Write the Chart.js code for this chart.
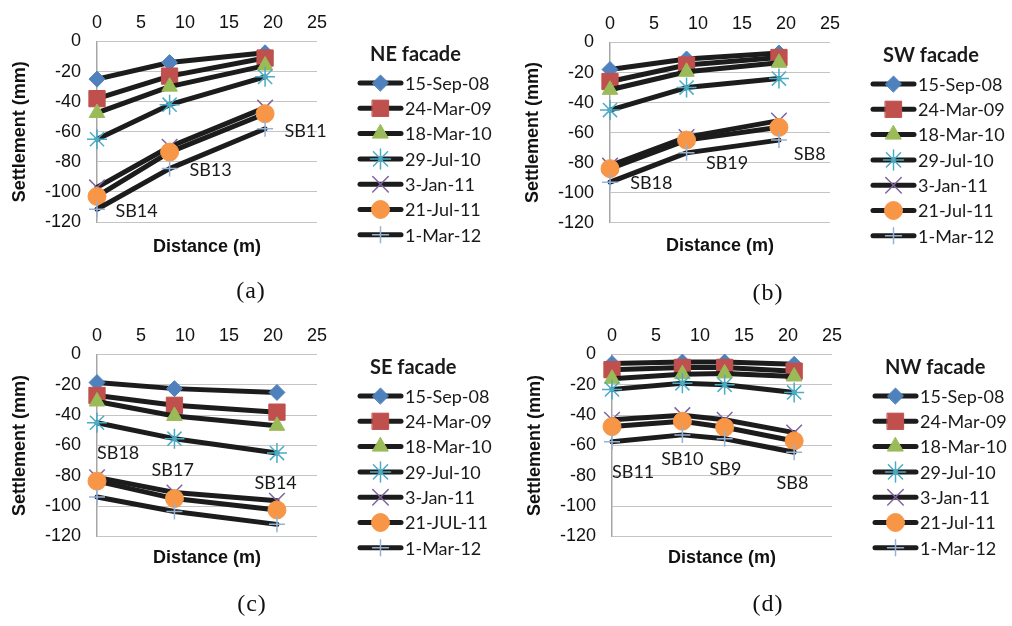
<!DOCTYPE html>
<html>
<head>
<meta charset="utf-8">
<title>Facade settlement</title>
<script src="https://cdn.jsdelivr.net/npm/chart.js@4.4.1/dist/chart.umd.min.js"></script>
<style>
  body { margin: 0; background: #fff; width: 1012px; height: 626px; position: relative; overflow: hidden; }
  .panel { position: absolute; width: 500px; height: 300px; }
  .cap { position: absolute; width: 60px; text-align: center; font-family: "Liberation Serif", serif; font-size: 24px; letter-spacing: 1px; color: #111; }
</style>
</head>
<body>
<div class="panel" style="left:0;top:0"><canvas id="chartNE" width="500" height="300"></canvas></div>
<div class="panel" style="left:513px;top:1px"><canvas id="chartSW" width="500" height="300"></canvas></div>
<div class="panel" style="left:0;top:313px"><canvas id="chartSE" width="500" height="300"></canvas></div>
<div class="panel" style="left:515px;top:313px"><canvas id="chartNW" width="500" height="300"></canvas></div>
<div class="cap" style="left:221px;top:277px">(a)</div>
<div class="cap" style="left:738px;top:279px">(b)</div>
<div class="cap" style="left:222px;top:590px">(c)</div>
<div class="cap" style="left:738px;top:590px">(d)</div>

<script>
// survey dates (series)
const surveyDates = ['15-Sep-08', '24-Mar-09', '18-Mar-10', '29-Jul-10', '3-Jan-11', '21-Jul-11', '1-Mar-12'];
const surveyDatesSE = ['15-Sep-08', '24-Mar-09', '18-Mar-10', '29-Jul-10', '3-Jan-11', '21-JUL-11', '1-Mar-12'];

// NE facade
const neDistance = [0, 8.25, 19.1];
const neSettlement = [
  [-25, -14, -7.5],
  [-38, -23, -11],
  [-47.5, -30, -16],
  [-65, -42, -23.5],
  [-97, -70, -44],
  [-103, -73.5, -48],
  [-111.5, -84.5, -58]
];
const neBoreholes = ['SB14', 'SB13', 'SB11'];
const neBoreholeX = [4.5, 12.9, 23.7];
const neBoreholeY = [-112.7, -85.8, -59.7];

// SW facade
const swDistance = [0, 8.7, 19.2];
const swSettlement = [
  [-18, -11, -7],
  [-26, -15, -10],
  [-31.5, -19.5, -13.5],
  [-45, -30, -24],
  [-82, -63, -52],
  [-84, -65, -56.5],
  [-93, -73.5, -65]
];
const swBoreholes = ['SB18', 'SB19', 'SB8'];
const swBoreholeX = [4.7, 13.3, 22.7];
const swBoreholeY = [-93.7, -80.5, -74.6];

// SE facade
const seDistance = [0, 8.8, 20.45];
const seSettlement = [
  [-18.5, -22.5, -25],
  [-27, -33.5, -38],
  [-31, -40.5, -47],
  [-45, -55.5, -65],
  [-81, -91, -96.5],
  [-83.5, -95, -102.5],
  [-94, -103.5, -112]
];
const seBoreholes = ['SB18', 'SB17', 'SB14'];
const seBoreholeX = [2.4, 8.6, 20.3];
const seBoreholeY = [-65.3, -76.3, -85];

// NW facade
const nwDistance = [0, 8.0, 12.8, 20.7];
const nwSettlement = [
  [-6, -5, -5, -6.5],
  [-10, -8.5, -8.5, -11],
  [-16, -13, -12.5, -14.5],
  [-23, -19, -20, -25],
  [-43, -40, -43, -51.5],
  [-47.5, -44, -48, -57],
  [-57.5, -53, -55.5, -64.5]
];
const nwBoreholes = ['SB11', 'SB10', 'SB9', 'SB8'];
const nwBoreholeX = [2.4, 8.0, 12.9, 20.5];
const nwBoreholeY = [-77.9, -69, -75.7, -84.9];

// marker look per survey
const markers = [
  { shape: 'rectRot', color: '#4f81bd', radius: 8, width: 1 },
  { shape: 'rect', color: '#c0504d', radius: 11.5, width: 1 },
  { shape: 'triangle', color: '#9bbb59', radius: 9, width: 1 },
  { shape: 'star', color: '#4bacc6', radius: 10, width: 1.5 },
  { shape: 'crossRot', color: '#8064a2', radius: 11, width: 1.5 },
  { shape: 'circle', color: '#f79646', radius: 9, width: 1 },
  { shape: 'cross', color: '#95b3d7', radius: 8, width: 1.5 }
];

const LINE_COLOR = '#1c1c1c';
const tickFont = { family: '"Liberation Sans", Arial, sans-serif', size: 18 };
const axisTitleFont = { family: '"Liberation Sans", Arial, sans-serif', size: 18, weight: 'bold' };

function drawMarker(ctx, m, x, y) {
  ctx.save();
  ctx.fillStyle = m.color;
  ctx.strokeStyle = m.color;
  ctx.lineWidth = m.width;
  Chart.helpers.drawPoint(ctx, { pointStyle: m.shape, radius: m.radius, rotation: 0, borderWidth: m.width }, x, y);
  ctx.restore();
}

// legend on the right + borehole names inside the plot
function facadePlugin(title, names, notes, noteX, noteY) {
  return {
    id: 'facade',
    afterDraw(chart) {
      const ctx = chart.ctx;
      const xs = chart.scales.x, ys = chart.scales.y;

      ctx.save();
      ctx.fillStyle = '#1a1a1a';
      ctx.textAlign = 'center';
      ctx.textBaseline = 'middle';
      ctx.font = '18px Lato, sans-serif';
      notes.forEach((t, i) => {
        ctx.fillText(t, xs.getPixelForValue(noteX[i]), ys.getPixelForValue(noteY[i]));
      });

      // legend
      ctx.textAlign = 'left';
      ctx.font = 'bold 20px Lato, sans-serif';
      ctx.fillText(title, 370, 55);
      ctx.font = '18px Lato, sans-serif';
      names.forEach((n, i) => {
        const y = 83 + i * 25.3;
        ctx.strokeStyle = LINE_COLOR;
        ctx.lineWidth = 5;
        ctx.lineCap = 'round';
        ctx.beginPath();
        ctx.moveTo(360, y);
        ctx.lineTo(401, y);
        ctx.stroke();
        drawMarker(ctx, markers[i], 380.5, y);
        ctx.fillStyle = '#1a1a1a';
        ctx.fillText(n, 405, y + 1);
      });
      ctx.restore();
    }
  };
}

function makePanel(id, title, names, distance, values, notes, noteX, noteY, plotBottom, titleGap) {
  const xTitleH = titleGap + 21.6;
  new Chart(document.getElementById(id), {
    type: 'line',
    data: {
      datasets: values.map((v, i) => ({
        label: names[i],
        data: distance.map((d, j) => ({ x: d, y: v[j] })),
        borderColor: LINE_COLOR,
        borderWidth: 5,
        borderCapStyle: 'round',
        borderJoinStyle: 'round',
        pointStyle: markers[i].shape,
        pointRadius: markers[i].radius,
        pointHoverRadius: markers[i].radius,
        pointBackgroundColor: markers[i].color,
        pointBorderColor: markers[i].color,
        pointBorderWidth: markers[i].width,
        tension: 0,
        fill: false,
        clip: false,
        order: values.length - i
      }))
    },
    options: {
      responsive: false,
      animation: false,
      layout: { padding: { top: 4.9, left: 0, right: 183, bottom: 300 - plotBottom - xTitleH } },
      plugins: { legend: { display: false }, tooltip: { enabled: false } },
      scales: {
        x: {
          type: 'linear', position: 'top', min: 0, max: 25,
          ticks: { stepSize: 5, padding: 7.5, font: tickFont, color: '#111' },
          grid: { display: false, drawTicks: false },
          border: { display: false }
        },
        x2: {
          type: 'linear', position: 'bottom', min: 0, max: 25,
          ticks: { display: false },
          grid: { display: false, drawTicks: false },
          border: { display: false },
          title: { display: true, text: 'Distance (m)', font: axisTitleFont, color: '#111', padding: { top: titleGap, bottom: 0 } }
        },
        y: {
          min: -120, max: 0,
          ticks: { stepSize: 20, padding: 16, font: tickFont, color: '#111' },
          grid: { color: '#c4c4c4', lineWidth: 1, drawTicks: false },
          border: { color: '#a6a6a6', width: 1.5 },
          title: { display: true, text: 'Settlement (mm)', font: axisTitleFont, color: '#111', padding: { top: 9, bottom: 0 } },
          afterFit(scale) { scale.width = 97; }
        }
      }
    },
    plugins: [facadePlugin(title, names, notes, noteX, noteY)]
  });
}

makePanel('chartNE', 'NE facade', surveyDates, neDistance, neSettlement, neBoreholes, neBoreholeX, neBoreholeY, 222, 14);
makePanel('chartSW', 'SW facade', surveyDates, swDistance, swSettlement, swBoreholes, swBoreholeX, swBoreholeY, 221.7, 13);
makePanel('chartSE', 'SE facade', surveyDatesSE, seDistance, seSettlement, seBoreholes, seBoreholeX, seBoreholeY, 223.5, 11);
makePanel('chartNW', 'NW facade', surveyDates, nwDistance, nwSettlement, nwBoreholes, nwBoreholeX, nwBoreholeY, 223.5, 11);
</script>
</body>
</html>
